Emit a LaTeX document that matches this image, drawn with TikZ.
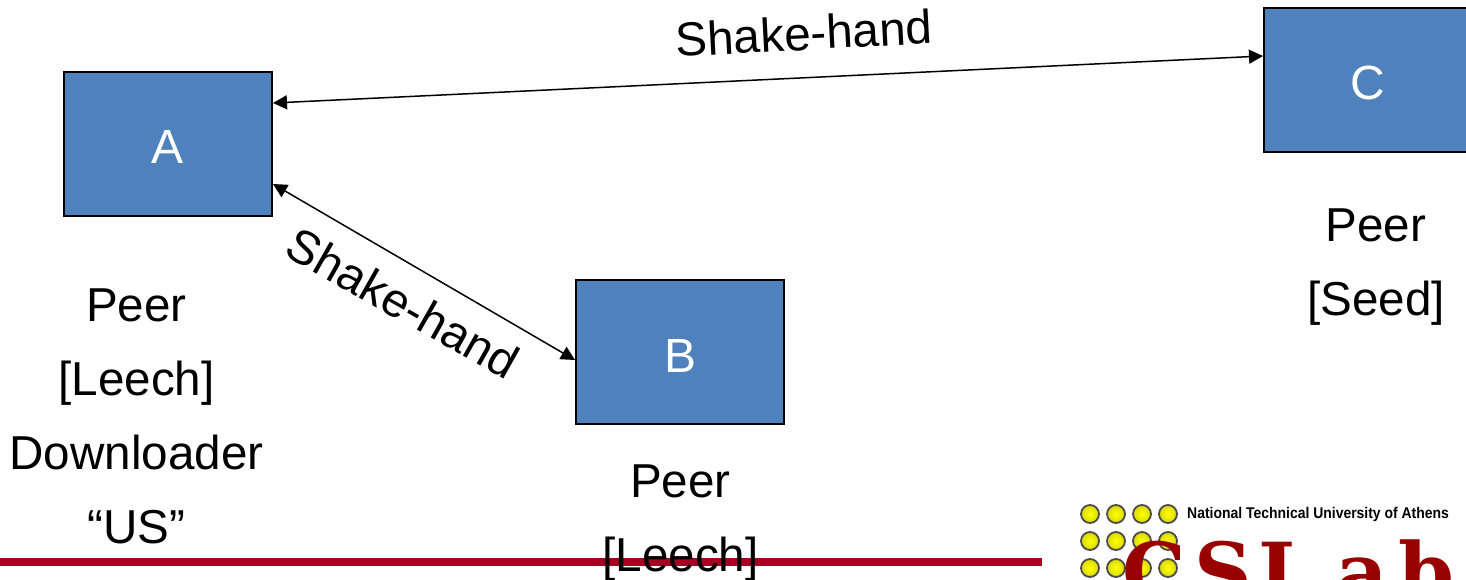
\documentclass[tikz,border=0pt]{standalone}
\usepackage{fontspec}
\setmainfont{Liberation Sans}
\newfontfamily\logofont{DejaVu Serif}
\usetikzlibrary{arrows.meta,calc}
\definecolor{boxblue}{HTML}{4F81BD}
\definecolor{barred}{HTML}{A50021}
\definecolor{logored}{HTML}{990000}
\tikzset{
  peerbox/.style={draw=black,line width=2pt,fill=boxblue,minimum width=208pt,minimum height=144pt,inner sep=0pt,text=white,text height=40pt,text depth=0pt,font=\fontsize{48}{58}\selectfont},
  caption/.style={font=\fontsize{47.6}{74}\selectfont,align=center,inner sep=0pt,text=black},
  link/.style={line width=1.5pt,{Triangle[length=14pt,width=14pt]}-{Triangle[length=14pt,width=14pt]}},
  lab/.style={font=\fontsize{47.6}{58}\selectfont,inner sep=0pt,text=black},
  dot/.style={circle,draw=black!70,line width=1.8pt,minimum size=18pt,inner sep=0pt,inner color=yellow,outer color=yellow!85!black}
}
\begin{document}
\begin{tikzpicture}[x=1pt,y=-1pt]
\useasboundingbox (0,0) rectangle (1466,580);
\clip (0,0) rectangle (1466,580);
\fill[white] (0,0) rectangle (1466,580);
\fill[barred] (0,558) rectangle (1042,566);
\node[peerbox] (A) at (168,144) {A};
\node[peerbox] (B) at (680,352) {B};
\node[peerbox] (C) at (1368,80) {C};
\draw[link] ([yshift=41pt]A.east) -- ([yshift=24pt]C.west);
\draw[link] ([yshift=-40pt]A.east) -- ([yshift=-8pt]B.west);
\node[lab,rotate=3] (t1) at (804,33) {Shake-hand};
\node[lab,rotate=-29.5] (t2) at (403,303) {Shake-hand};
\node[caption,anchor=north] (pa) at (136.5,289) {Peer\\{}[Leech]\\Downloader\\“US”};
\node[caption,anchor=north] (pb) at (680.5,464.5) {Peer\\{}[Leech]};
\node[caption,anchor=north] (pc) at (1376,209) {Peer\\{}[Seed]};
\foreach \r/\yy in {1/514,2/541,3/568}{
  \foreach \c/\xx in {1/1090,2/1116,3/1142,4/1168}{
    \node[dot] (d\r\c) at (\xx,\yy) {};
  }
}
\node[anchor=west,inner sep=0pt,xscale=0.9,font=\fontsize{15.5}{18}\selectfont\bfseries] (uni) at (1187,514.5) {National Technical University of Athens};
\node[anchor=base west,inner sep=0pt,text=logored,font=\fontsize{80}{80}\selectfont\logofont\bfseries] (logo) at (1122,600) {C\kern9ptS\kern6ptL\kern22pta\kern10ptb};
\end{tikzpicture}
\end{document}
